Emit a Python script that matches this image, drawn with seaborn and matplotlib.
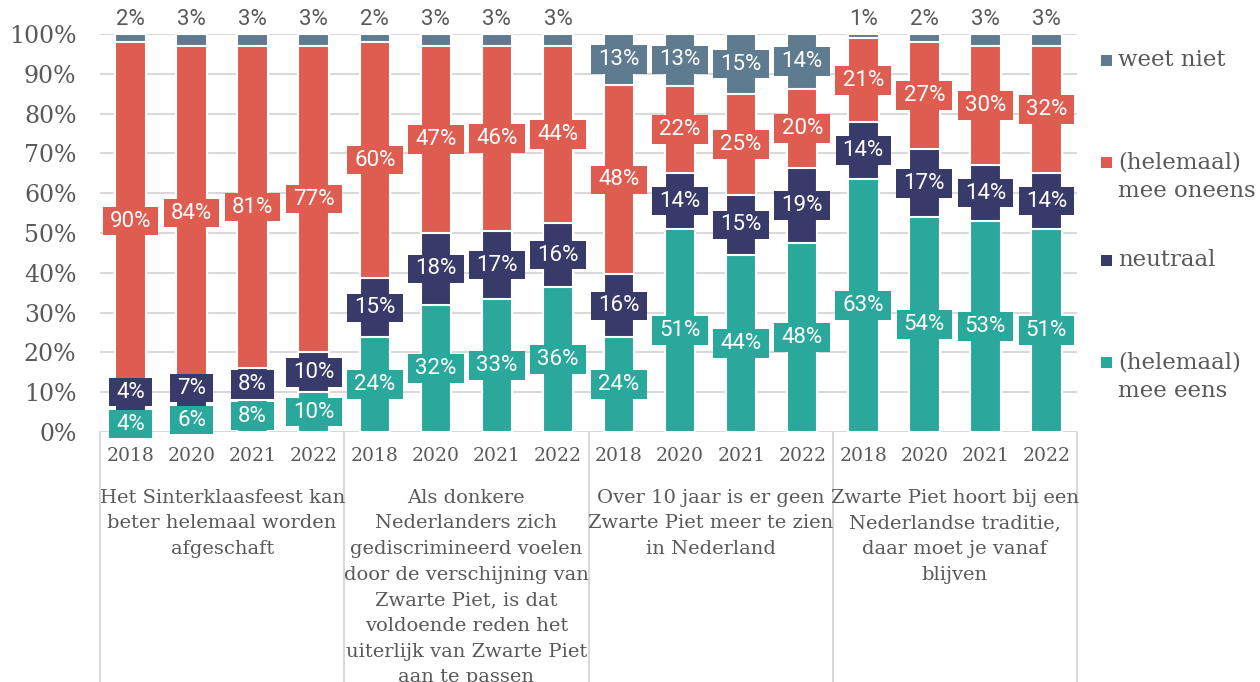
import numpy as np
import pandas as pd
import matplotlib.pyplot as plt
import matplotlib.transforms as mtransforms
from matplotlib.patches import Rectangle
from matplotlib.path import Path
import seaborn as sns

YEARS = ["2018", "2020", "2021", "2022"]
STATEMENTS = [
    "Het Sinterklaasfeest kan\nbeter helemaal worden\nafgeschaft",
    "Als donkere\nNederlanders zich\ngediscrimineerd voelen\ndoor de verschijning van\n"
    "Zwarte Piet, is dat\nvoldoende reden het\nuiterlijk van Zwarte Piet\naan te passen",
    "Over 10 jaar is er geen\nZwarte Piet meer te zien\nin Nederland",
    "Zwarte Piet hoort bij een\nNederlandse traditie,\ndaar moet je vanaf\nblijven",
]

# one value per bar: statement by statement, years 2018/2020/2021/2022
EENS = [4, 6, 8, 10, 24, 32, 33, 36, 24, 51, 44, 48, 63, 54, 53, 51]
NEUTRAAL = [4, 7, 8, 10, 15, 18, 17, 16, 16, 14, 15, 19, 14, 17, 14, 14]
ONEENS = [90, 84, 81, 77, 60, 47, 46, 44, 48, 22, 25, 20, 21, 27, 30, 32]
WEET_NIET = [2, 3, 3, 3, 2, 3, 3, 3, 13, 13, 15, 14, 1, 2, 3, 3]

SERIES = ["(helemaal)\nmee eens", "neutraal", "(helemaal)\nmee oneens", "weet niet"]
COLORS = ["#2ba89c", "#383b69", "#df5c50", "#5f7b8f"]
TEXT_GREY = "#595959"
GRID_GREY = "#d9d9d9"

sns.set_theme(style="white")
plt.rcParams["font.family"] = ["DejaVu Serif"]


def label_box(x0, y0, width, height, mutation_size):
    # wider than tall padding, like the label boxes in the original
    px, py = 0.32 * mutation_size, 0.17 * mutation_size
    x0, y0 = x0 - px, y0 - py
    x1, y1 = x0 + width + 2 * px, y0 + height + 2 * py
    return Path([(x0, y0), (x1, y0), (x1, y1), (x0, y1), (x0, y0)], closed=True)


vals = np.array([EENS, NEUTRAAL, ONEENS, WEET_NIET], dtype=float)
share = vals / vals.sum(axis=0) * 100  # 100% stacked
cum = np.cumsum(share, axis=0)

bar_ids = [f"{s}-{y}" for s in range(len(STATEMENTS)) for y in YEARS]
df = pd.DataFrame({"bar": bar_ids})
for k, name in enumerate(SERIES):
    df[name] = cum[k]

W, H = 1260, 682
fig = plt.figure(figsize=(W / 100, H / 100), dpi=100)
ax = fig.add_axes([100 / W, 1 - 432 / H, 977 / W, 398 / H])

# stacked look: draw cumulative bars from the top series down
for k in reversed(range(len(SERIES))):
    sns.barplot(data=df, x="bar", y=SERIES[k], order=bar_ids, color=COLORS[k],
                saturation=1, width=0.5, edgecolor="white", linewidth=1.5,
                ax=ax, zorder=2)

ax.set_ylim(0, 100)
ax.set_xlim(-0.5, len(bar_ids) - 0.5)
ax.set_xlabel("")
ax.set_ylabel("")
ax.set_yticks(np.arange(0, 101, 10))
ax.set_yticklabels([f"{t}%" for t in range(0, 101, 10)])
ax.set_xticks(range(len(bar_ids)))
ax.set_xticklabels(YEARS * len(STATEMENTS))
ax.tick_params(axis="y", length=0, pad=17, labelsize=17, labelcolor=TEXT_GREY)
ax.tick_params(axis="x", length=0, pad=11, labelsize=13.5, labelcolor=TEXT_GREY)
ax.set_axisbelow(True)
ax.yaxis.grid(True, color=GRID_GREY, linewidth=1.5)
sns.despine(ax=ax, left=True, bottom=True, top=True, right=True)

# category table lines below the axis
blend = mtransforms.blended_transform_factory(ax.transData, ax.transAxes)
for xv in np.arange(-0.5, len(bar_ids), 4):
    ax.plot([xv, xv], [0, -0.64], transform=blend, color=GRID_GREY,
            linewidth=1.5, clip_on=False)

for g, text in enumerate(STATEMENTS):
    ax.text(g * 4 + 1.5, -0.142, text, transform=blend, ha="center", va="top",
            fontsize=14, color=TEXT_GREY, linespacing=1.55)

# data labels
for i in range(len(bar_ids)):
    base = 0
    prev = -100
    for k in range(len(SERIES)):
        v = int(vals[k, i])
        h = share[k, i]
        if k == len(SERIES) - 1 and v < 5:
            ax.annotate(f"{v}%", (i, 100), xytext=(0, 3), textcoords="offset points",
                        ha="center", va="bottom", fontsize=16, family="Roboto",
                        color=TEXT_GREY, annotation_clip=False)
        else:
            c = max(base + h / 2, prev + 8)
            ax.text(i, c, f"{v}%", ha="center", va="center", fontsize=16,
                    family="Roboto", color="white", zorder=5,
                    bbox=dict(boxstyle=label_box, fc=COLORS[k], ec="none"))
            prev = c
        base += h

# legend on the right
legend_rows = [(3, 60), (2, 162), (1, 260), (0, 362)]
for k, py in legend_rows:
    fig.add_artist(Rectangle((1101 / W, 1 - (py + 5.5) / H), 11 / W, 11 / H,
                             transform=fig.transFigure, fc=COLORS[k], ec="none"))
    fig.text(1118 / W, 1 - (py - 11) / H, SERIES[k], ha="left", va="top",
             fontsize=16.5, color=TEXT_GREY, linespacing=1.4)

fig.savefig("out.png", dpi=100)
